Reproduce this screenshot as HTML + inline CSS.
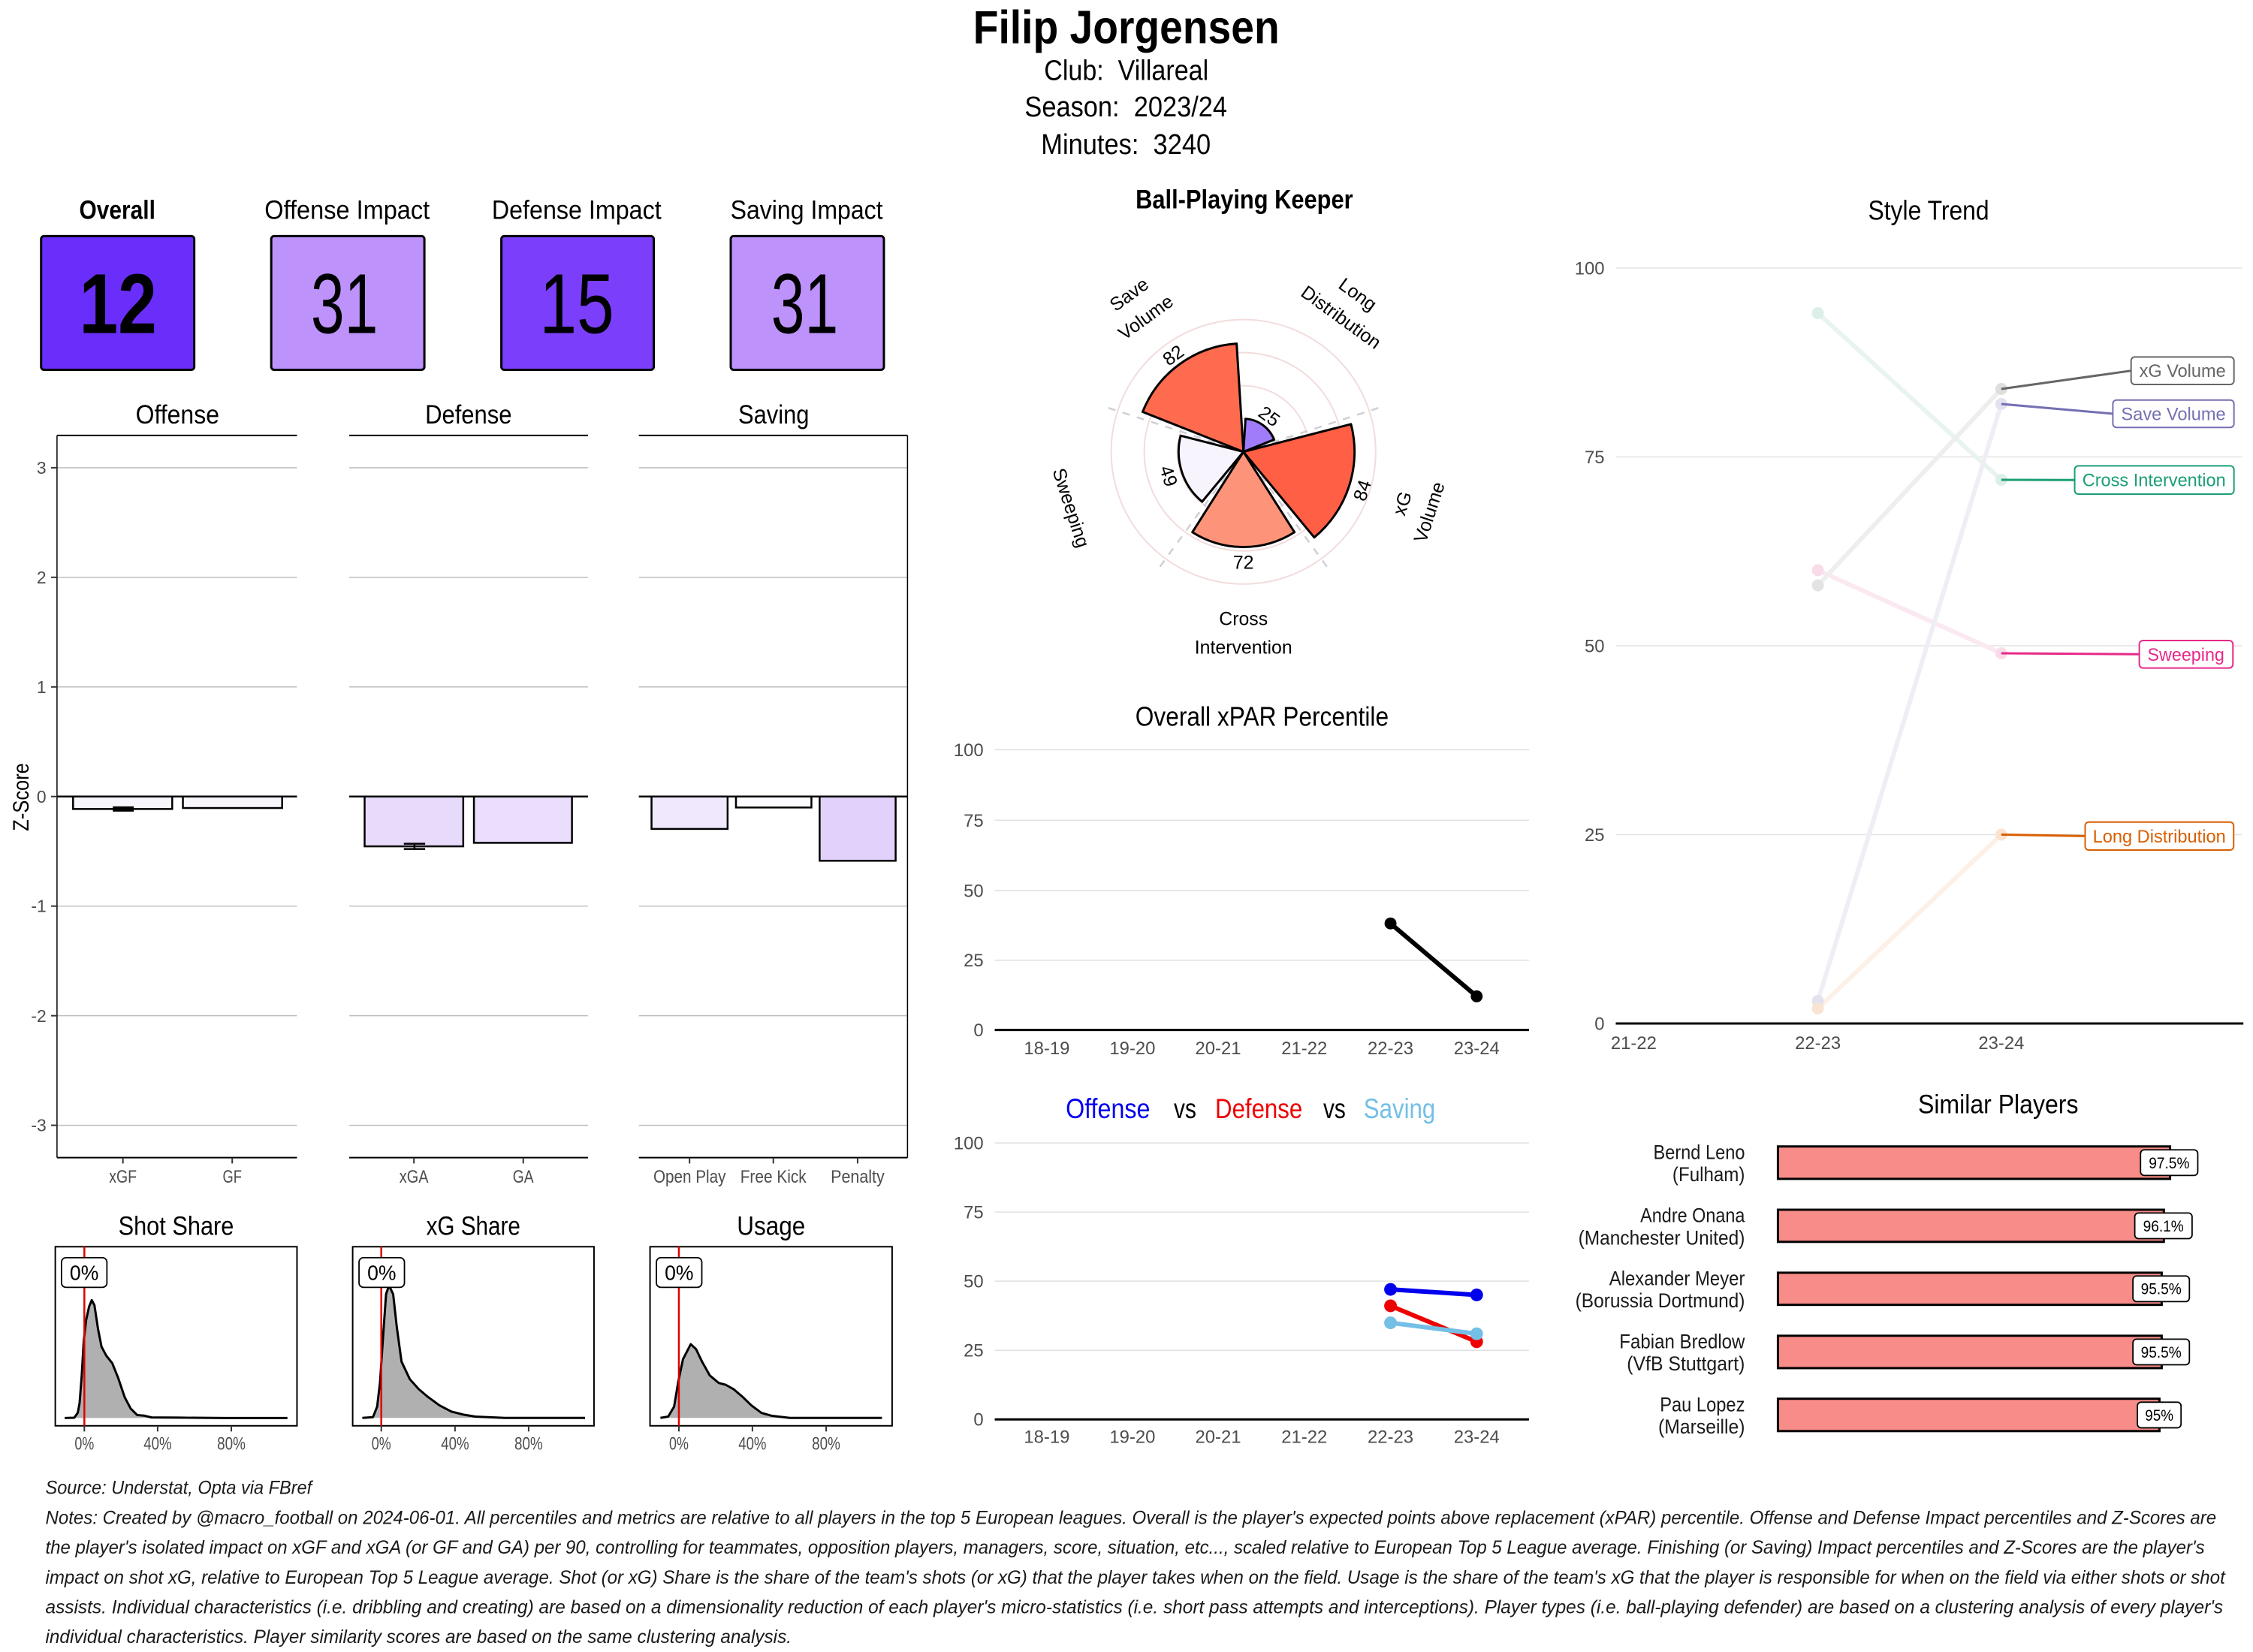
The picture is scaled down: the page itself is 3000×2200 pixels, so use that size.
<!DOCTYPE html>
<html>
<head>
<meta charset="utf-8">
<style>
html,body{margin:0;padding:0;background:#fff;}
svg{display:block;}
text{font-family:"Liberation Sans",Arial,sans-serif;}
.ax{fill:#4d4d4d;font-size:24px;}
.pre{white-space:pre;}
</style>
</head>
<body>
<svg width="3000" height="2200" viewBox="0 0 3000 2200" xmlns="http://www.w3.org/2000/svg">
<rect width="3000" height="2200" fill="#fff"/>

<!-- ===== Header (zoom2 origin 1250,0) ===== -->
<g transform="matrix(0.9949,0,0,0.9949,6.375,0)">
<text x="1501" y="58" font-size="62" font-weight="bold" text-anchor="middle" textLength="410" lengthAdjust="spacingAndGlyphs">Filip Jorgensen</text>
<text class="pre" x="1501" y="107" font-size="38" text-anchor="middle" textLength="220" lengthAdjust="spacingAndGlyphs">Club:  Villareal</text>
<text class="pre" x="1500.5" y="156" font-size="38" text-anchor="middle" textLength="271" lengthAdjust="spacingAndGlyphs">Season:  2023/24</text>
<text class="pre" x="1500.5" y="206" font-size="38" text-anchor="middle" textLength="227" lengthAdjust="spacingAndGlyphs">Minutes:  3240</text>
<text x="1659" y="279" font-size="35" font-weight="bold" text-anchor="middle" textLength="291" lengthAdjust="spacingAndGlyphs">Ball-Playing Keeper</text>
</g>

<!-- ===== Top impact boxes (zoom1 origin 0,0) ===== -->
<g transform="matrix(0.9949,0,0,0.9949,0,0)">
<text x="157" y="293" font-size="35" font-weight="bold" text-anchor="middle" textLength="102" lengthAdjust="spacingAndGlyphs">Overall</text>
<text x="464.6" y="293" font-size="35" text-anchor="middle" textLength="221" lengthAdjust="spacingAndGlyphs">Offense Impact</text>
<text x="771.7" y="293" font-size="35" text-anchor="middle" textLength="227" lengthAdjust="spacingAndGlyphs">Defense Impact</text>
<text x="1079.6" y="293" font-size="35" text-anchor="middle" textLength="204" lengthAdjust="spacingAndGlyphs">Saving Impact</text>

<rect x="55" y="316" width="205" height="179" rx="4" fill="#6a2efa" stroke="#000" stroke-width="3"/>
<rect x="363" y="316" width="205" height="179" rx="4" fill="#bd93fb" stroke="#000" stroke-width="3"/>
<rect x="671" y="316" width="204" height="179" rx="4" fill="#7b3ffb" stroke="#000" stroke-width="3"/>
<rect x="978" y="316" width="205" height="179" rx="4" fill="#bd93fb" stroke="#000" stroke-width="3"/>
<text x="158" y="446" font-size="114" font-weight="bold" text-anchor="middle" textLength="104" lengthAdjust="spacingAndGlyphs">12</text>
<text x="461" y="446" font-size="114" text-anchor="middle" textLength="90" lengthAdjust="spacingAndGlyphs">31</text>
<text x="772" y="446" font-size="114" text-anchor="middle" textLength="100" lengthAdjust="spacingAndGlyphs">15</text>
<text x="1077" y="446" font-size="114" text-anchor="middle" textLength="90" lengthAdjust="spacingAndGlyphs">31</text>

<text x="237.5" y="567" font-size="35" text-anchor="middle" textLength="112" lengthAdjust="spacingAndGlyphs">Offense</text>
<text x="627" y="567" font-size="35" text-anchor="middle" textLength="116" lengthAdjust="spacingAndGlyphs">Defense</text>
<text x="1035.5" y="567" font-size="35" text-anchor="middle" textLength="95" lengthAdjust="spacingAndGlyphs">Saving</text>
</g>

<!-- ===== Z-score panels (zoom4 origin 0,560) ===== -->
<g transform="matrix(0.9949,0,0,0.9949,0,2.856)">
<g stroke="#bdbdbd" stroke-width="1.5">
  <line x1="76.3" x2="397.5" y1="623.2" y2="623.2"/><line x1="467.4" x2="787" y1="623.2" y2="623.2"/><line x1="855" x2="1214.6" y1="623.2" y2="623.2"/>
  <line x1="76.3" x2="397.5" y1="769.9" y2="769.9"/><line x1="467.4" x2="787" y1="769.9" y2="769.9"/><line x1="855" x2="1214.6" y1="769.9" y2="769.9"/>
  <line x1="76.3" x2="397.5" y1="916.6" y2="916.6"/><line x1="467.4" x2="787" y1="916.6" y2="916.6"/><line x1="855" x2="1214.6" y1="916.6" y2="916.6"/>
  <line x1="76.3" x2="397.5" y1="1210" y2="1210"/><line x1="467.4" x2="787" y1="1210" y2="1210"/><line x1="855" x2="1214.6" y1="1210" y2="1210"/>
  <line x1="76.3" x2="397.5" y1="1356.7" y2="1356.7"/><line x1="467.4" x2="787" y1="1356.7" y2="1356.7"/><line x1="855" x2="1214.6" y1="1356.7" y2="1356.7"/>
  <line x1="76.3" x2="397.5" y1="1503.4" y2="1503.4"/><line x1="467.4" x2="787" y1="1503.4" y2="1503.4"/><line x1="855" x2="1214.6" y1="1503.4" y2="1503.4"/>
</g>
<g stroke="#000" stroke-width="2.5">
  <rect x="97.8" y="1063.3" width="132.7" height="16.7" fill="#f8f5fd"/>
  <rect x="244.8" y="1063.3" width="132.8" height="15.4" fill="#f8f5fd"/>
  <rect x="488" y="1063.3" width="132" height="66.7" fill="#e8dafb"/>
  <rect x="634.3" y="1063.3" width="131.2" height="62" fill="#eadefc"/>
  <rect x="872" y="1063.3" width="101.8" height="43.4" fill="#f0e9fd"/>
  <rect x="985" y="1063.3" width="101" height="14.7" fill="#fcfbff"/>
  <rect x="1097" y="1063.3" width="101.7" height="86" fill="#e1d1fb"/>
</g>
<rect x="151" y="1076.5" width="28" height="7" fill="#000"/>
<g stroke="#000" stroke-width="2.5">
  <line x1="540.5" x2="569" y1="1126.5" y2="1126.5"/>
  <line x1="540.5" x2="569" y1="1133.5" y2="1133.5"/>
  <line x1="554.7" x2="554.7" y1="1126.5" y2="1133.5"/>
</g>
<g stroke="#000" stroke-width="2.5">
  <line x1="76.3" x2="397.5" y1="1063.3" y2="1063.3"/>
  <line x1="467.4" x2="787" y1="1063.3" y2="1063.3"/>
  <line x1="855" x2="1214.6" y1="1063.3" y2="1063.3"/>
</g>
<g stroke="#000" stroke-width="2">
  <line x1="76.3" x2="397.5" y1="580" y2="580"/>
  <line x1="467.4" x2="787" y1="580" y2="580"/>
  <line x1="855" x2="1214.6" y1="580" y2="580"/>
  <line x1="76.3" x2="397.5" y1="1546.7" y2="1546.7"/>
  <line x1="467.4" x2="787" y1="1546.7" y2="1546.7"/>
  <line x1="855" x2="1214.6" y1="1546.7" y2="1546.7"/>
</g>
<g stroke="#000" stroke-width="1.5">
  <line x1="76.3" x2="76.3" y1="580" y2="1546.7"/>
  <line x1="1214.6" x2="1214.6" y1="580" y2="1546.7"/>
</g>
<g stroke="#333" stroke-width="2">
  <line x1="68.4" x2="76.3" y1="623.2" y2="623.2"/>
  <line x1="68.4" x2="76.3" y1="769.9" y2="769.9"/>
  <line x1="68.4" x2="76.3" y1="916.6" y2="916.6"/>
  <line x1="68.4" x2="76.3" y1="1063.3" y2="1063.3"/>
  <line x1="68.4" x2="76.3" y1="1210" y2="1210"/>
  <line x1="68.4" x2="76.3" y1="1356.7" y2="1356.7"/>
  <line x1="68.4" x2="76.3" y1="1503.4" y2="1503.4"/>
  <line x1="164.5" x2="164.5" y1="1546.7" y2="1554.5"/>
  <line x1="310.8" x2="310.8" y1="1546.7" y2="1554.5"/>
  <line x1="554" x2="554" y1="1546.7" y2="1554.5"/>
  <line x1="700.3" x2="700.3" y1="1546.7" y2="1554.5"/>
  <line x1="922.9" x2="922.9" y1="1546.7" y2="1554.5"/>
  <line x1="1035" x2="1035" y1="1546.7" y2="1554.5"/>
  <line x1="1147.8" x2="1147.8" y1="1546.7" y2="1554.5"/>
</g>
<g fill="#4d4d4d" font-size="23" text-anchor="end">
  <text x="62" y="631.5">3</text>
  <text x="62" y="778">2</text>
  <text x="62" y="925">1</text>
  <text x="62" y="1071.5">0</text>
  <text x="62" y="1218">-1</text>
  <text x="62" y="1365">-2</text>
  <text x="62" y="1511.5">-3</text>
</g>
<g class="ax" text-anchor="middle">
  <text x="164.5" y="1580" textLength="37" lengthAdjust="spacingAndGlyphs">xGF</text>
  <text x="310.8" y="1580" textLength="25.5" lengthAdjust="spacingAndGlyphs">GF</text>
  <text x="554" y="1580" textLength="39" lengthAdjust="spacingAndGlyphs">xGA</text>
  <text x="700.3" y="1580" textLength="28" lengthAdjust="spacingAndGlyphs">GA</text>
  <text x="922.9" y="1580" textLength="97" lengthAdjust="spacingAndGlyphs">Open Play</text>
  <text x="1035" y="1580" textLength="88.5" lengthAdjust="spacingAndGlyphs">Free Kick</text>
  <text x="1147.8" y="1580" textLength="72" lengthAdjust="spacingAndGlyphs">Penalty</text>
</g>
<text transform="translate(38,1064) rotate(-90)" font-size="30" text-anchor="middle" textLength="91" lengthAdjust="spacingAndGlyphs">Z-Score</text>
</g>

<!-- ===== Density panels (origin 0,1580) ===== -->
<g transform="matrix(0.9949,0,0,0.9949,0,8.058)">
<text x="235.7" y="1645" font-size="35" text-anchor="middle" textLength="154.6" lengthAdjust="spacingAndGlyphs">Shot Share</text>
<text x="633.5" y="1645" font-size="35" text-anchor="middle" textLength="126" lengthAdjust="spacingAndGlyphs">xG Share</text>
<text x="1032" y="1645" font-size="35" text-anchor="middle" textLength="91.5" lengthAdjust="spacingAndGlyphs">Usage</text>

<polygon fill="#b0b0b0" points="86.6,1890 99.4,1889.6 104.1,1882.9 106.5,1870.1 109.3,1834.4 112.1,1786.7 115.3,1758.9 119.2,1741 122.8,1732.2 126.4,1739 131.2,1770.8 135.9,1794.6 142.3,1806.6 150.2,1816.5 158.2,1836.4 166.9,1862.2 174.9,1877.3 183.6,1886 192.8,1886.8 202.7,1889.2 384.7,1890"/>
<polyline fill="none" stroke="#000" stroke-width="3" stroke-linejoin="round" points="86.6,1890 99.4,1889.6 104.1,1882.9 106.5,1870.1 109.3,1834.4 112.1,1786.7 115.3,1758.9 119.2,1741 122.8,1732.2 126.4,1739 131.2,1770.8 135.9,1794.6 142.3,1806.6 150.2,1816.5 158.2,1836.4 166.9,1862.2 174.9,1877.3 183.6,1886 192.8,1886.8 202.7,1889.2 240,1889.5 300,1890 384.7,1890"/>
<polygon fill="#b0b0b0" points="484.9,1889.8 499.2,1888.8 504.8,1874.7 508.7,1841.3 512.7,1781.1 516.7,1724.2 520.7,1712.5 526.2,1724.2 531,1767.7 537.4,1814.5 548.5,1838 560.4,1851.3 572.3,1861.4 588.2,1873.1 604.1,1881.4 620,1885.4 636,1888.1 675.7,1889.8 783,1889.8"/>
<polyline fill="none" stroke="#000" stroke-width="3" stroke-linejoin="round" points="484.9,1889.8 499.2,1888.8 504.8,1874.7 508.7,1841.3 512.7,1781.1 516.7,1724.2 520.7,1712.5 526.2,1724.2 531,1767.7 537.4,1814.5 548.5,1838 560.4,1851.3 572.3,1861.4 588.2,1873.1 604.1,1881.4 620,1885.4 636,1888.1 675.7,1889.8 783,1889.8"/>
<polygon fill="#b0b0b0" points="883.9,1889.8 894.3,1888.1 902.2,1874.7 907.8,1841.3 914.1,1811.2 924.5,1791.1 931.6,1797.8 939.6,1814.5 949.9,1832.9 961.8,1843 971.4,1845.6 981.7,1851.3 993.6,1861.4 1005.6,1873.1 1019.1,1883.1 1033.4,1887.1 1057.2,1889.8 1180.4,1889.8"/>
<polyline fill="none" stroke="#000" stroke-width="3" stroke-linejoin="round" points="883.9,1889.8 894.3,1888.1 902.2,1874.7 907.8,1841.3 914.1,1811.2 924.5,1791.1 931.6,1797.8 939.6,1814.5 949.9,1832.9 961.8,1843 971.4,1845.6 981.7,1851.3 993.6,1861.4 1005.6,1873.1 1019.1,1883.1 1033.4,1887.1 1057.2,1889.8 1180.4,1889.8"/>

<g fill="none" stroke="#000" stroke-width="2">
  <rect x="74" y="1660.7" width="323.5" height="239.7"/>
  <rect x="472" y="1660.7" width="323" height="239.7"/>
  <rect x="870" y="1660.7" width="324" height="239.7"/>
</g>
<g stroke="#e00000" stroke-width="2.5">
  <line x1="112.9" x2="112.9" y1="1660.7" y2="1900.4"/>
  <line x1="510.3" x2="510.3" y1="1660.7" y2="1900.4"/>
  <line x1="908.6" x2="908.6" y1="1660.7" y2="1900.4"/>
</g>
<g stroke="#333" stroke-width="2">
  <line x1="112.9" x2="112.9" y1="1900.4" y2="1908"/><line x1="211" x2="211" y1="1900.4" y2="1908"/><line x1="309.6" x2="309.6" y1="1900.4" y2="1908"/>
  <line x1="510.3" x2="510.3" y1="1900.4" y2="1908"/><line x1="609" x2="609" y1="1900.4" y2="1908"/><line x1="707.5" x2="707.5" y1="1900.4" y2="1908"/>
  <line x1="908.6" x2="908.6" y1="1900.4" y2="1908"/><line x1="1007" x2="1007" y1="1900.4" y2="1908"/><line x1="1105.7" x2="1105.7" y1="1900.4" y2="1908"/>
</g>
<g class="ax" text-anchor="middle">
  <text x="112.9" y="1932.5" textLength="26" lengthAdjust="spacingAndGlyphs">0%</text>
  <text x="211" y="1932.5" textLength="37.5" lengthAdjust="spacingAndGlyphs">40%</text>
  <text x="309.6" y="1932.5" textLength="38" lengthAdjust="spacingAndGlyphs">80%</text>
  <text x="510.3" y="1932.5" textLength="26" lengthAdjust="spacingAndGlyphs">0%</text>
  <text x="609" y="1932.5" textLength="37.5" lengthAdjust="spacingAndGlyphs">40%</text>
  <text x="707.5" y="1932.5" textLength="38" lengthAdjust="spacingAndGlyphs">80%</text>
  <text x="908.6" y="1932.5" textLength="26" lengthAdjust="spacingAndGlyphs">0%</text>
  <text x="1007" y="1932.5" textLength="37.5" lengthAdjust="spacingAndGlyphs">40%</text>
  <text x="1105.7" y="1932.5" textLength="38" lengthAdjust="spacingAndGlyphs">80%</text>
</g>
<g fill="#fff" stroke="#000" stroke-width="1.8">
  <rect x="82.3" y="1675.4" width="60.8" height="39.7" rx="6"/>
  <rect x="480.5" y="1675.4" width="60.8" height="39.7" rx="6"/>
  <rect x="878.5" y="1675.4" width="60.8" height="39.7" rx="6"/>
</g>
<g font-size="28" text-anchor="middle">
  <text x="112.7" y="1705" textLength="38.6" lengthAdjust="spacingAndGlyphs">0%</text>
  <text x="510.9" y="1705" textLength="38.6" lengthAdjust="spacingAndGlyphs">0%</text>
  <text x="908.9" y="1705" textLength="38.6" lengthAdjust="spacingAndGlyphs">0%</text>
</g>
</g>

<!-- ===== Polar chart (zoom3 origin 1400,340) ===== -->
<g transform="matrix(0.9949,0,0,0.9949,7.14,1.734)">
<g fill="none" stroke="#f2dcdc" stroke-width="2">
  <circle cx="1657" cy="603" r="44.25"/>
  <circle cx="1657" cy="603" r="88.5"/>
  <circle cx="1657" cy="603" r="132.75"/>
  <circle cx="1657" cy="603" r="177"/>
</g>
<g stroke="#cfcfd6" stroke-width="2.5" stroke-dasharray="10 10">
  <line x1="1657" y1="603" x2="1844.4" y2="542.1"/>
  <line x1="1657" y1="603" x2="1772.8" y2="762.4"/>
  <line x1="1657" y1="603" x2="1541.2" y2="762.4"/>
  <line x1="1657" y1="603" x2="1469.6" y2="542.1"/>
</g>
<g stroke="#000" stroke-width="3" stroke-linejoin="round">
  <path d="M1657,603 L1659.8,558.8 A44.25,44.25 0 0 1 1698.1,586.7 Z" fill="#a07cfa"/>
  <path d="M1657,603 L1801.0,566.0 A148.7,148.7 0 0 1 1751.8,717.6 Z" fill="#ff5f45"/>
  <path d="M1657,603 L1725.3,710.6 A127.4,127.4 0 0 1 1588.7,710.6 Z" fill="#fd9479"/>
  <path d="M1657,603 L1601.7,669.8 A86.7,86.7 0 0 1 1573.0,581.4 Z" fill="#f7f4fd"/>
  <path d="M1657,603 L1522.1,549.6 A145.1,145.1 0 0 1 1647.9,458.2 Z" fill="#ff6b4e"/>
</g>
<g font-size="25" text-anchor="middle">
  <text transform="translate(1691.7,555.3) rotate(36)" dy="0.35em">25</text>
  <text transform="translate(1815.8,654.6) rotate(-72)" dy="0.35em">84</text>
  <text transform="translate(1657,751)" dy="0.35em">72</text>
  <text transform="translate(1557.1,635.4) rotate(72)" dy="0.35em">49</text>
  <text transform="translate(1563,473.6) rotate(-36)" dy="0.35em">82</text>
</g>
<g font-size="25" text-anchor="middle">
  <g transform="translate(1799.2,407.2) rotate(36)"><text y="-10">Long</text><text y="28">Distribution</text></g>
  <g transform="translate(1887.2,677.8) rotate(-72)"><text y="-10">xG</text><text y="28">Volume</text></g>
  <g transform="translate(1657,845)"><text y="-10">Cross</text><text y="28">Intervention</text></g>
  <g transform="translate(1426.8,677.8) rotate(72)"><text y="9">Sweeping</text></g>
  <g transform="translate(1514.8,407.2) rotate(-36)"><text y="-10">Save</text><text y="28">Volume</text></g>
</g>
</g>

<!-- ===== xPAR & OvD (zoom6 origin 1240,900) ===== -->
<g transform="matrix(0.9949,0,0,0.9949,6.324,4.59)">
<text x="1682.7" y="966.7" font-size="36" text-anchor="middle" textLength="339" lengthAdjust="spacingAndGlyphs">Overall xPAR Percentile</text>
<g stroke="#e0e0e0" stroke-width="1.5">
  <line x1="1325" x2="2040" y1="999" y2="999"/>
  <line x1="1325" x2="2040" y1="1093.3" y2="1093.3"/>
  <line x1="1325" x2="2040" y1="1187.3" y2="1187.3"/>
  <line x1="1325" x2="2040" y1="1280.7" y2="1280.7"/>
</g>
<line x1="1325" x2="2040" y1="1374" y2="1374" stroke="#000" stroke-width="3"/>
<g class="ax" text-anchor="end">
  <text x="1310" y="1007.5">100</text>
  <text x="1310" y="1101.8">75</text>
  <text x="1310" y="1195.8">50</text>
  <text x="1310" y="1289.2">25</text>
  <text x="1310" y="1382.5">0</text>
</g>
<g class="ax" text-anchor="middle">
  <text x="1394.7" y="1406.7">18-19</text>
  <text x="1509.3" y="1406.7">19-20</text>
  <text x="1624" y="1406.7">20-21</text>
  <text x="1739.3" y="1406.7">21-22</text>
  <text x="1854.7" y="1406.7">22-23</text>
  <text x="1970" y="1406.7">23-24</text>
</g>
<line x1="1854.7" y1="1231.5" x2="1970" y2="1329" stroke="#000" stroke-width="6" stroke-linecap="round"/>
<circle cx="1854.7" cy="1231.5" r="8" fill="#000"/>
<circle cx="1970" cy="1329" r="8" fill="#000"/>

<g font-size="37">
  <text x="1420" y="1492" fill="#0000ee" textLength="113" lengthAdjust="spacingAndGlyphs">Offense</text>
  <text x="1564.7" y="1492" fill="#000" textLength="30" lengthAdjust="spacingAndGlyphs">vs</text>
  <text x="1620" y="1492" fill="#ee0000" textLength="116.7" lengthAdjust="spacingAndGlyphs">Defense</text>
  <text x="1764.7" y="1492" fill="#000" textLength="30" lengthAdjust="spacingAndGlyphs">vs</text>
  <text x="1818.7" y="1492" fill="#74bfe6" textLength="96" lengthAdjust="spacingAndGlyphs">Saving</text>
</g>
<g stroke="#e0e0e0" stroke-width="1.5">
  <line x1="1325" x2="2040" y1="1525.3" y2="1525.3"/>
  <line x1="1325" x2="2040" y1="1617.8" y2="1617.8"/>
  <line x1="1325" x2="2040" y1="1710.3" y2="1710.3"/>
  <line x1="1325" x2="2040" y1="1802.8" y2="1802.8"/>
</g>
<line x1="1325" x2="2040" y1="1895.3" y2="1895.3" stroke="#000" stroke-width="3"/>
<g class="ax" text-anchor="end">
  <text x="1310" y="1533.8">100</text>
  <text x="1310" y="1626.3">75</text>
  <text x="1310" y="1718.8">50</text>
  <text x="1310" y="1811.3">25</text>
  <text x="1310" y="1903.8">0</text>
</g>
<g class="ax" text-anchor="middle">
  <text x="1394.7" y="1926.7">18-19</text>
  <text x="1509.3" y="1926.7">19-20</text>
  <text x="1624" y="1926.7">20-21</text>
  <text x="1739.3" y="1926.7">21-22</text>
  <text x="1854.7" y="1926.7">22-23</text>
  <text x="1970" y="1926.7">23-24</text>
</g>
<line x1="1854.7" y1="1721.3" x2="1970" y2="1728.7" stroke="#0000ee" stroke-width="6" stroke-linecap="round"/>
<circle cx="1854.7" cy="1721.3" r="8.5" fill="#0000ee"/><circle cx="1970" cy="1728.7" r="8.5" fill="#0000ee"/>
<line x1="1854.7" y1="1743.3" x2="1970" y2="1791.3" stroke="#ee0000" stroke-width="6" stroke-linecap="round"/>
<circle cx="1854.7" cy="1743.3" r="8.5" fill="#ee0000"/><circle cx="1970" cy="1791.3" r="8.5" fill="#ee0000"/>
<line x1="1854.7" y1="1766" x2="1970" y2="1780.7" stroke="#74bfe6" stroke-width="6" stroke-linecap="round"/>
<circle cx="1854.7" cy="1766" r="8.5" fill="#74bfe6"/><circle cx="1970" cy="1780.7" r="8.5" fill="#74bfe6"/>
</g>

<!-- ===== Style Trend (x-origin 2050) ===== -->
<g transform="matrix(0.9949,0,0,1,10.455,0)">
<text x="2570.7" y="292.7" font-size="36" text-anchor="middle" textLength="162" lengthAdjust="spacingAndGlyphs">Style Trend</text>
<g stroke="#e3e3e3" stroke-width="1.5">
  <line x1="2152" x2="2990" y1="357" y2="357"/>
  <line x1="2152" x2="2990" y1="608.5" y2="608.5"/>
  <line x1="2152" x2="2990" y1="860" y2="860"/>
  <line x1="2152" x2="2990" y1="1111.5" y2="1111.5"/>
</g>
<line x1="2152" x2="2992" y1="1363" y2="1363" stroke="#000" stroke-width="3"/>
<g class="ax" text-anchor="end">
  <text x="2137" y="365.5">100</text>
  <text x="2137" y="617">75</text>
  <text x="2137" y="868.5">50</text>
  <text x="2137" y="1120">25</text>
  <text x="2137" y="1371.5">0</text>
</g>
<g class="ax" text-anchor="middle">
  <text x="2176" y="1397">21-22</text>
  <text x="2422.5" y="1397">22-23</text>
  <text x="2668" y="1397">23-24</text>
</g>
<g stroke-width="6" stroke-linecap="round">
  <line x1="2422.5" y1="417" x2="2668" y2="639" stroke="#e9f4f0"/>
  <line x1="2422.5" y1="759.4" x2="2668" y2="870" stroke="#fbe9f2"/>
  <line x1="2422.5" y1="779.5" x2="2668" y2="518" stroke="#eeeeee"/>
  <line x1="2422.5" y1="1333" x2="2668" y2="538" stroke="#efeef5"/>
  <line x1="2422.5" y1="1343" x2="2668" y2="1111.5" stroke="#fcf0e7"/>
</g>
<g>
  <circle cx="2422.5" cy="417" r="8" fill="#dcefe8"/>
  <circle cx="2422.5" cy="759.4" r="8" fill="#f8dcea"/>
  <circle cx="2422.5" cy="779.5" r="8" fill="#e3e3e3"/>
  <circle cx="2422.5" cy="1333" r="8" fill="#e3e2ef"/>
  <circle cx="2422.5" cy="1343" r="8" fill="#f9e3d2"/>
  <circle cx="2668" cy="639" r="8" fill="#dcefe8"/>
  <circle cx="2668" cy="870" r="8" fill="#f8dcea"/>
  <circle cx="2668" cy="518" r="8" fill="#dedede"/>
  <circle cx="2668" cy="538" r="8" fill="#e3e2ef"/>
  <circle cx="2668" cy="1111.5" r="8" fill="#f9e3d2"/>
</g>
<g stroke-width="3">
  <line x1="2668" y1="518" x2="2841.7" y2="493.7" stroke="#666666"/>
  <line x1="2668" y1="538" x2="2817.3" y2="551" stroke="#7570b3"/>
  <line x1="2668" y1="639" x2="2766.2" y2="639.2" stroke="#1b9e77"/>
  <line x1="2668" y1="870" x2="2852.7" y2="871.3" stroke="#e7298a"/>
  <line x1="2668" y1="1111.5" x2="2780.2" y2="1113.4" stroke="#d95f02"/>
</g>
<g fill="#fff" stroke-width="2">
  <rect x="2841.7" y="475.4" width="137.7" height="36.6" rx="5" stroke="#666666"/>
  <rect x="2817.3" y="532.7" width="162.1" height="36.5" rx="5" stroke="#7570b3"/>
  <rect x="2766.2" y="620.4" width="213.2" height="37.6" rx="5" stroke="#1b9e77"/>
  <rect x="2852.7" y="853" width="125.3" height="36.6" rx="5" stroke="#e7298a"/>
  <rect x="2780.2" y="1094.8" width="198.8" height="37.2" rx="5" stroke="#d95f02"/>
</g>
<g font-size="24" text-anchor="end">
  <text x="2968.4" y="502" fill="#666666" textLength="115.7" lengthAdjust="spacingAndGlyphs">xG Volume</text>
  <text x="2968.4" y="559.5" fill="#7570b3" textLength="140" lengthAdjust="spacingAndGlyphs">Save Volume</text>
  <text x="2968.4" y="647.7" fill="#1b9e77" textLength="192" lengthAdjust="spacingAndGlyphs">Cross Intervention</text>
  <text x="2966.6" y="879.8" fill="#e7298a" textLength="103" lengthAdjust="spacingAndGlyphs">Sweeping</text>
  <text x="2968.4" y="1121.8" fill="#d95f02" textLength="178" lengthAdjust="spacingAndGlyphs">Long Distribution</text>
</g>
</g>

<!-- ===== Similar Players (zoom8 origin 2080,1420) ===== -->
<g transform="matrix(0.9949,0,0,0.9949,10.608,7.242)">
<text x="2663.7" y="1482.7" font-size="35" text-anchor="middle" textLength="214.6" lengthAdjust="spacingAndGlyphs">Similar Players</text>
<g fill="#f88c89" stroke="#000" stroke-width="3">
  <rect x="2368.9" y="1527.3" width="524.8" height="43.4"/>
  <rect x="2368.9" y="1612" width="516.5" height="43"/>
  <rect x="2368.9" y="1696.3" width="513.6" height="43"/>
  <rect x="2368.9" y="1780.7" width="513.6" height="43.3"/>
  <rect x="2368.9" y="1865" width="510.6" height="43.3"/>
</g>
<g fill="#fff" stroke="#000" stroke-width="1.8">
  <rect x="2854.2" y="1531.8" width="76.6" height="34.3" rx="5"/>
  <rect x="2846.5" y="1616.4" width="76.7" height="34.3" rx="5"/>
  <rect x="2844" y="1700.7" width="75.6" height="34.3" rx="5"/>
  <rect x="2844" y="1785.2" width="75.6" height="34.3" rx="5"/>
  <rect x="2850" y="1869.6" width="58.4" height="34.3" rx="5"/>
</g>
<g font-size="21" text-anchor="middle">
  <text x="2892.5" y="1556.5" textLength="54.5" lengthAdjust="spacingAndGlyphs">97.5%</text>
  <text x="2884.8" y="1641" textLength="54.5" lengthAdjust="spacingAndGlyphs">96.1%</text>
  <text x="2881.8" y="1725.3" textLength="54.5" lengthAdjust="spacingAndGlyphs">95.5%</text>
  <text x="2881.8" y="1809.8" textLength="54.5" lengthAdjust="spacingAndGlyphs">95.5%</text>
  <text x="2879.2" y="1894.2" textLength="38" lengthAdjust="spacingAndGlyphs">95%</text>
</g>
<g font-size="27" text-anchor="end" fill="#1a1a1a">
  <text x="2324.7" y="1544" textLength="122.6" lengthAdjust="spacingAndGlyphs">Bernd Leno</text>
  <text x="2324.7" y="1574" textLength="97" lengthAdjust="spacingAndGlyphs">(Fulham)</text>
  <text x="2324.7" y="1628.5" textLength="140" lengthAdjust="spacingAndGlyphs">Andre Onana</text>
  <text x="2324.7" y="1658.5" textLength="223" lengthAdjust="spacingAndGlyphs">(Manchester United)</text>
  <text x="2324.7" y="1712.8" textLength="181.6" lengthAdjust="spacingAndGlyphs">Alexander Meyer</text>
  <text x="2324.7" y="1742.8" textLength="227" lengthAdjust="spacingAndGlyphs">(Borussia Dortmund)</text>
  <text x="2324.7" y="1797.3" textLength="168" lengthAdjust="spacingAndGlyphs">Fabian Bredlow</text>
  <text x="2324.7" y="1827.3" textLength="158" lengthAdjust="spacingAndGlyphs">(VfB Stuttgart)</text>
  <text x="2324.7" y="1881.7" textLength="113.8" lengthAdjust="spacingAndGlyphs">Pau Lopez</text>
  <text x="2324.7" y="1911.7" textLength="116" lengthAdjust="spacingAndGlyphs">(Marseille)</text>
</g>
</g>

<!-- ===== Notes ===== -->
<g font-size="25" font-style="italic" fill="#1a1a1a">
  <text x="60.5" y="1989.3" textLength="354.7" lengthAdjust="spacingAndGlyphs">Source: Understat, Opta via FBref</text>
  <text x="60.5" y="2029.6" textLength="2890.6" lengthAdjust="spacingAndGlyphs">Notes: Created by @macro_football on 2024-06-01. All percentiles and metrics are relative to all players in the top 5 European leagues. Overall is the player's expected points above replacement (xPAR) percentile. Offense and Defense Impact percentiles and Z-Scores are</text>
  <text x="60.5" y="2069.1" textLength="2875.1" lengthAdjust="spacingAndGlyphs">the player's isolated impact on xGF and xGA (or GF and GA) per 90, controlling for teammates, opposition players, managers, score, situation, etc..., scaled relative to European Top 5 League average. Finishing (or Saving) Impact percentiles and Z-Scores are the player's</text>
  <text x="60.5" y="2109.1" textLength="2902.3" lengthAdjust="spacingAndGlyphs">impact on shot xG, relative to European Top 5 League average. Shot (or xG) Share is the share of the team's shots (or xG) that the player takes when on the field. Usage is the share of the team's xG that the player is responsible for when on the field via either shots or shot</text>
  <text x="60.5" y="2148.6" textLength="2899.6" lengthAdjust="spacingAndGlyphs">assists. Individual characteristics (i.e. dribbling and creating) are based on a dimensionality reduction of each player's micro-statistics (i.e. short pass attempts and interceptions). Player types (i.e. ball-playing defender) are based on a clustering analysis of every player's</text>
  <text x="60.5" y="2188.2" textLength="993.5" lengthAdjust="spacingAndGlyphs">individual characteristics. Player similarity scores are based on the same clustering analysis.</text>
</g>
</svg>
</body>
</html>
